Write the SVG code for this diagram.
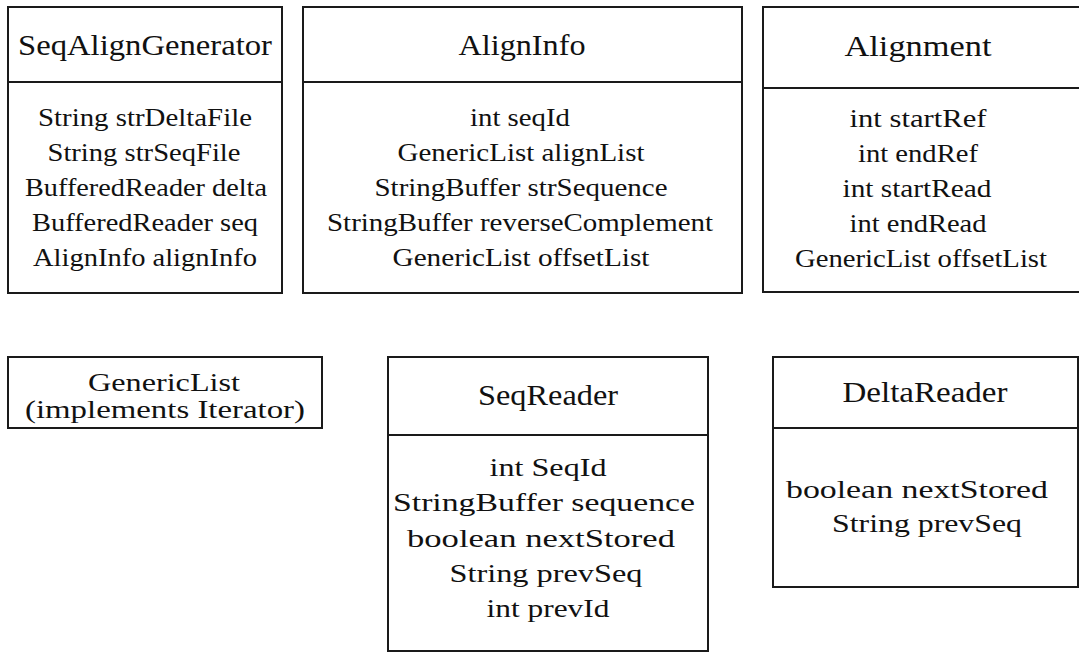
<svg xmlns="http://www.w3.org/2000/svg" width="1079" height="652" viewBox="0 0 1079 652" font-family="'Liberation Serif', 'DejaVu Serif', serif">
<style>
.box{fill:#fff;stroke:#1a1a1a;stroke-width:2}
.div{stroke:#1a1a1a;stroke-width:2}
text{font-family:'Liberation Serif','DejaVu Serif',serif;fill:#111;text-anchor:middle}
.t{font-size:29px}
.a{font-size:26px}
</style>
<rect width="1079" height="652" fill="#fff"/>
<g id="SeqAlignGenerator">
<rect class="box" x="8" y="7" width="274" height="286"/>
<line class="div" x1="8" y1="82" x2="282" y2="82"/>
<text class="t" x="145" y="55" textLength="254" lengthAdjust="spacingAndGlyphs">SeqAlignGenerator</text>
<text class="a" x="145" y="126" textLength="214" lengthAdjust="spacingAndGlyphs">String strDeltaFile</text>
<text class="a" x="144" y="161" textLength="193" lengthAdjust="spacingAndGlyphs">String strSeqFile</text>
<text class="a" x="146" y="196" textLength="242" lengthAdjust="spacingAndGlyphs">BufferedReader delta</text>
<text class="a" x="145" y="231" textLength="226" lengthAdjust="spacingAndGlyphs">BufferedReader seq</text>
<text class="a" x="145" y="266" textLength="224" lengthAdjust="spacingAndGlyphs">AlignInfo alignInfo</text>
</g>
<g id="AlignInfo">
<rect class="box" x="303" y="7" width="439" height="286"/>
<line class="div" x1="303" y1="82" x2="742" y2="82"/>
<text class="t" x="522" y="55" textLength="127" lengthAdjust="spacingAndGlyphs">AlignInfo</text>
<text class="a" x="520" y="126" textLength="100" lengthAdjust="spacingAndGlyphs">int seqId</text>
<text class="a" x="521" y="161" textLength="247" lengthAdjust="spacingAndGlyphs">GenericList alignList</text>
<text class="a" x="521" y="196" textLength="293" lengthAdjust="spacingAndGlyphs">StringBuffer strSequence</text>
<text class="a" x="520" y="231" textLength="386" lengthAdjust="spacingAndGlyphs">StringBuffer reverseComplement</text>
<text class="a" x="521" y="266" textLength="257" lengthAdjust="spacingAndGlyphs">GenericList offsetList</text>
</g>
<g id="Alignment">
<rect class="box" x="763" y="7" width="330" height="285"/>
<line class="div" x1="763" y1="88" x2="1079" y2="88"/>
<text class="t" x="918" y="56" textLength="147" lengthAdjust="spacingAndGlyphs">Alignment</text>
<text class="a" x="918" y="127" textLength="137" lengthAdjust="spacingAndGlyphs">int startRef</text>
<text class="a" x="918" y="162" textLength="120" lengthAdjust="spacingAndGlyphs">int endRef</text>
<text class="a" x="917" y="197" textLength="149" lengthAdjust="spacingAndGlyphs">int startRead</text>
<text class="a" x="918" y="232" textLength="137" lengthAdjust="spacingAndGlyphs">int endRead</text>
<text class="a" x="921" y="267" textLength="252" lengthAdjust="spacingAndGlyphs">GenericList offsetList</text>
</g>
<g id="GenericList">
<rect class="box" x="8" y="357" width="314" height="71"/>
<text class="a" x="164" y="391" textLength="152" lengthAdjust="spacingAndGlyphs">GenericList</text>
<text class="a" x="165" y="418" textLength="280" lengthAdjust="spacingAndGlyphs">(implements Iterator)</text>
</g>
<g id="SeqReader">
<rect class="box" x="388" y="357" width="320" height="294"/>
<line class="div" x1="388" y1="435" x2="708" y2="435"/>
<text class="t" x="548" y="405" textLength="140" lengthAdjust="spacingAndGlyphs">SeqReader</text>
<text class="a" x="548" y="476" textLength="117" lengthAdjust="spacingAndGlyphs">int SeqId</text>
<text class="a" x="544" y="511" textLength="302" lengthAdjust="spacingAndGlyphs">StringBuffer sequence</text>
<text class="a" x="541" y="547" textLength="268" lengthAdjust="spacingAndGlyphs">boolean nextStored</text>
<text class="a" x="546" y="582" textLength="193" lengthAdjust="spacingAndGlyphs">String prevSeq</text>
<text class="a" x="548" y="617" textLength="123" lengthAdjust="spacingAndGlyphs">int prevId</text>
</g>
<g id="DeltaReader">
<rect class="box" x="773" y="357" width="305" height="230"/>
<line class="div" x1="773" y1="428" x2="1078" y2="428"/>
<text class="t" x="925" y="402" textLength="165" lengthAdjust="spacingAndGlyphs">DeltaReader</text>
<text class="a" x="917" y="498" textLength="262" lengthAdjust="spacingAndGlyphs">boolean nextStored</text>
<text class="a" x="927" y="532" textLength="190" lengthAdjust="spacingAndGlyphs">String prevSeq</text>
</g>
<g id="connectors"/>
</svg>
